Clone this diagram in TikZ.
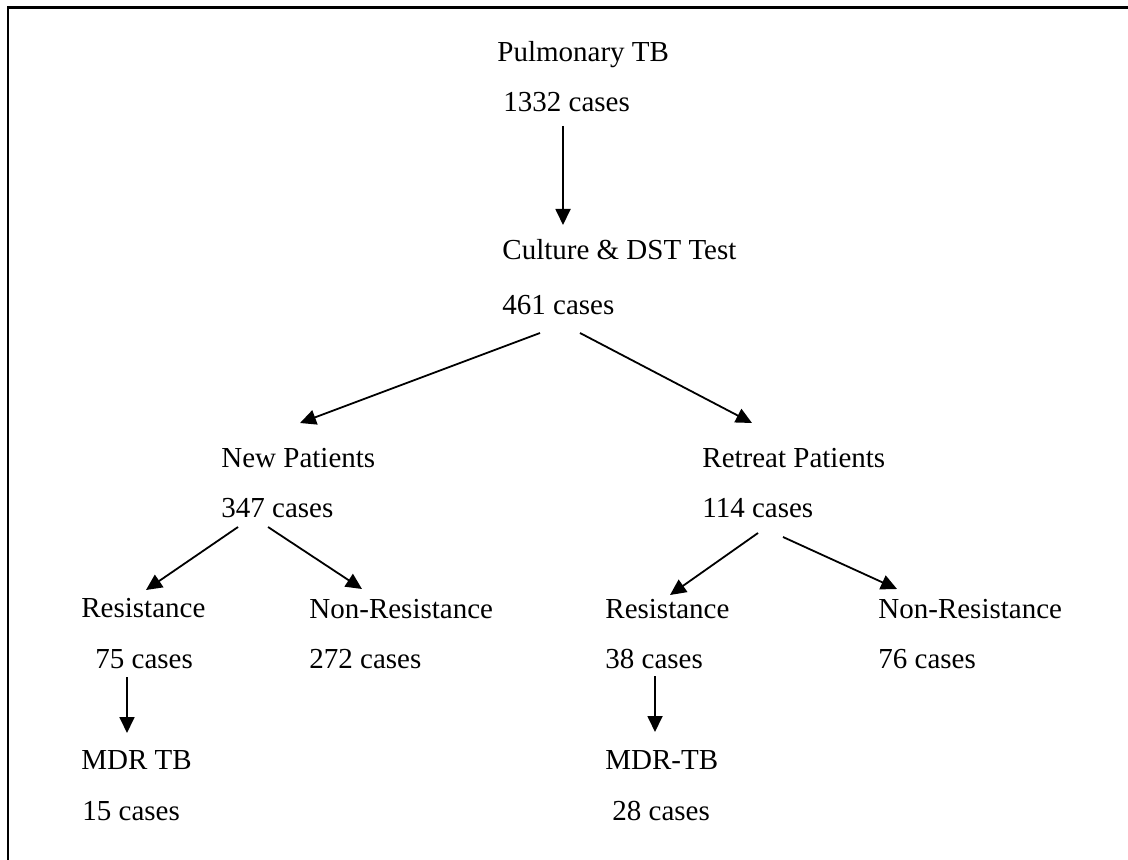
\documentclass[tikz,border=0pt]{standalone}
\usepackage{fontspec}
\setmainfont{Liberation Serif}
\usetikzlibrary{arrows.meta}

\begin{document}
\begin{tikzpicture}[x=0.5pt,y=-0.5pt,
	txt/.style={anchor=base west,inner sep=0pt,font=\fontsize{14.5}{16}\selectfont},
	arr/.style={line width=0.9pt,-{Triangle[length=8pt,width=7.5pt]}}]
	\useasboundingbox (0,0) rectangle (1128,860);
	\draw[line width=1.2pt] (8,860) -- (8,7.5) -- (1128,7.5);
	\node[txt] (pulm) at (497,62) {Pulmonary TB};
	\node[txt] (c1332) at (503,112) {1332 cases};
	\node[txt] (culture) at (502,260) {Culture \& DST Test};
	\node[txt] (c461) at (502,315) {461 cases};
	\node[txt] (newp) at (221,467) {New Patients};
	\node[txt] (c347) at (221,517) {347 cases};
	\node[txt] (retp) at (702,467) {Retreat Patients};
	\node[txt] (c114) at (702,517) {114 cases};
	\node[txt] (resL) at (81,617) {Resistance};
	\node[txt] (c75) at (95,668) {75 cases};
	\node[txt] (nonL) at (309,618) {Non-Resistance};
	\node[txt] (c272) at (309,668) {272 cases};
	\node[txt] (resR) at (605,618) {Resistance};
	\node[txt] (c38) at (605,668) {38 cases};
	\node[txt] (nonR) at (878,618) {Non-Resistance};
	\node[txt] (c76) at (878,668) {76 cases};
	\node[txt] (mdrL) at (81,769) {MDR TB};
	\node[txt] (c15) at (82,820) {15 cases};
	\node[txt] (mdrR) at (605,769) {MDR-TB};
	\node[txt] (c28) at (612,820) {28 cases};
	\draw[arr] ([shift={(60,14)}]c1332.base west) -- ([shift={(61,-35)}]culture.base west);
	\draw[arr] ([shift={(38,18)}]c461.base west) -- ([shift={(79,-44)}]newp.base west);
	\draw[arr] ([shift={(78,18)}]c461.base west) -- ([shift={(50,-44)}]retp.base west);
	\draw[arr] ([shift={(17,10)}]c347.base west) -- ([shift={(65,-27)}]resL.base west);
	\draw[arr] ([shift={(47,10)}]c347.base west) -- ([shift={(53,-29)}]nonL.base west);
	\draw[arr] ([shift={(56,16)}]c114.base west) -- ([shift={(65,-23)}]resR.base west);
	\draw[arr] ([shift={(81,20)}]c114.base west) -- ([shift={(19,-29)}]nonR.base west);
	\draw[arr] ([shift={(32,9)}]c75.base west) -- ([shift={(46,-36)}]mdrL.base west);
	\draw[arr] ([shift={(50,8)}]c38.base west) -- ([shift={(50,-37)}]mdrR.base west);
\end{tikzpicture}
\end{document}
